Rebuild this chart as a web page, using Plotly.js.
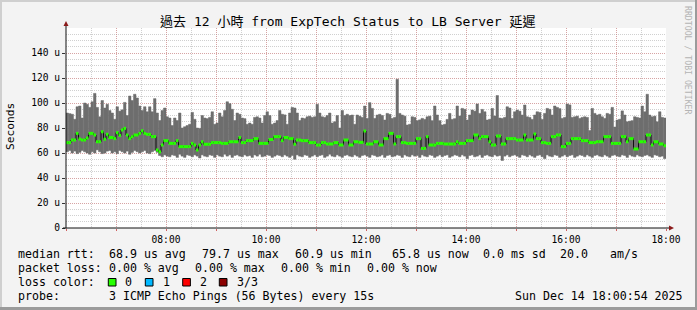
<!DOCTYPE html>
<html><head><meta charset="utf-8">
<script src="https://cdn.plot.ly/plotly-3.0.1.min.js"></script>
<style>html,body{margin:0;padding:0;background:#f3f3f3;overflow:hidden}#chart{width:697px;height:310px}</style>
</head><body><div id="chart"></div>
<script>
// ---- data (microseconds), 3-minute steps from 06:00 to 18:00 ----
const startUTC = [2025, 11, 14, 6, 0];
const stepMinutes = 3;
const maxRtt = [92, 91.5, 91, 87, 97, 97.6, 88, 100, 99, 96.5,
 101, 107.7, 96.5, 89, 102, 96, 99, 94, 92, 87,
 97, 93.5, 94.5, 100.5, 90, 105.6, 102, 107, 104, 97.6,
 94, 97, 93, 97, 93, 103.5, 92, 86, 94, 96,
 89, 88, 82, 88, 86, 92, 80, 81, 82, 83,
 92.5, 87, 80, 79.7, 90, 88, 87.5, 88.5, 93, 83,
 84, 92, 89, 94, 101, 99.5, 95, 86, 92, 91,
 88, 87.5, 83, 84, 83, 88.5, 89, 88, 84, 90,
 93, 90, 83, 84, 86, 94, 91, 90.5, 83, 92,
 96.5, 96, 92, 86, 88, 87.5, 89, 89.5, 88.5, 89,
 99, 92, 89, 88.5, 90, 92, 84, 85, 90, 80,
 94, 90, 91, 90, 90.4, 83, 90.4, 89.5, 88.5, 97.6,
 87.7, 100.3, 95.7, 87.7, 90.4, 91, 90, 86.4, 91.7, 91,
 87.7, 88.5, 119, 91.7, 90.4, 89.5, 82.4, 83, 89, 88.5,
 85.9, 86.5, 87.7, 86.9, 89, 89.5, 85.9, 97.6, 90.4, 85.9,
 82.4, 83, 86.9, 91.7, 86.9, 87.5, 97.6, 89.6, 95.7, 95,
 86.4, 90.4, 94.4, 93.5, 99.2, 91.7, 94.9, 93, 86.4, 87,
 95.7, 89.6, 106, 88, 87.7, 88.5, 97, 96, 87.7, 93,
 94.4, 93.5, 90.4, 98.4, 89, 88.5, 86.9, 90.4, 93, 92.5,
 86.9, 91.7, 95.7, 95, 90.4, 97.6, 96.5, 95.5, 87.7, 88.5,
 99.2, 98.5, 88.5, 89, 89.5, 87.7, 88.5, 89, 88.5, 78,
 95.7, 91.7, 90.4, 91, 89, 87.7, 91.7, 91, 96.5, 80.8,
 86.4, 87, 93.7, 90.4, 85, 85.5, 85.9, 89, 88.5, 88,
 97.6, 93, 107, 90.4, 89, 89.5, 85, 93, 88.5, 88];
const minRtt = [61, 62, 60, 61.5, 59.5, 60.5, 62, 61, 60, 59,
 61, 60, 62.5, 61, 59.5, 60, 61.5, 62, 60, 61,
 59.5, 62, 61, 60, 61.5, 59, 60.5, 62, 61, 60,
 61, 62, 60, 59.5, 61, 62, 60.5, 58, 57, 58.5,
 57.5, 57, 58.5, 58, 56.5, 59, 57.5, 56.5, 58.5, 58,
 57, 58.5, 57.5, 56, 58.5, 57.5, 57, 58.5, 58, 56.5,
 58.5, 57.5, 57, 59, 57.5, 58.5, 56.5, 58, 58.5, 57.5,
 57, 58.5, 57.5, 58, 56.5, 58.5, 57.5, 59, 57, 57.5,
 58.5, 58, 56.5, 57.5, 58.5, 58, 57, 58.5, 57.5, 56.5,
 58, 55, 58.5, 57.5, 57, 58.5, 58, 56.5, 57.5, 58.5,
 57, 58, 58.5, 56.5, 57.5, 59, 57.5, 57, 58.5, 57.5,
 56.5, 58, 58.5, 57.5, 57, 58.5, 57.5, 56.5, 58, 58.5,
 57.5, 56.5, 58.5, 58, 57, 57.5, 58.5, 56.5, 58, 58.5,
 57, 57.5, 58.5, 58, 56.5, 58.5, 57.5, 57, 58.5, 57.5,
 58, 56.5, 58.5, 57.5, 57, 58.5, 58, 56.5, 57.5, 58.5,
 57, 58, 58.5, 56.5, 57.5, 58.5, 58, 57, 58.5, 57.5,
 55.5, 58, 58.5, 57, 57.5, 58.5, 56.5, 58, 58.5, 57.5,
 57, 58.5, 57.5, 58, 54, 57.5, 58.5, 57, 58, 58.5,
 57.5, 56.5, 58.5, 58, 57, 58.5, 57.5, 56.5, 58, 58.5,
 57, 55.5, 58.5, 57.5, 57, 58.5, 58, 56.5, 57.5, 58.5,
 57, 58, 58.5, 56.5, 57.5, 58.5, 58, 57, 58.5, 57.5,
 56.5, 58, 58.5, 57.5, 57, 58.5, 57.5, 56.5, 58, 58.5,
 57.5, 57, 58.5, 58, 56.5, 58.5, 57.5, 57, 58.5, 57.5,
 57, 58, 58.5, 57.5, 56.5, 58.5, 58, 57, 57.5, 55.5];
const medianRtt = [68.3, 68.3, 70.4, 70.4, 75.7, 71.2, 70.4, 70.4, 72, 75.7,
 75.7, 74.4, 69, 69, 77, 71, 75, 72.4, 72.4, 71.5,
 76.3, 74, 78.4, 79.7, 74.4, 71.5, 73, 74.4, 74.4, 75.7,
 77.8, 75.7, 74.9, 74.9, 73.1, 73.1, 62.4, 60.9, 66.4, 69.9,
 69.9, 67.7, 67.7, 67.7, 69.9, 65.1, 65.1, 65.1, 65.1, 65.1,
 67.7, 66.4, 62.4, 66.4, 69, 67, 67, 67, 68.3, 68.3,
 68.3, 68.3, 67.7, 67.7, 67.7, 69, 69, 69, 69, 72.4,
 68.3, 68.3, 69.9, 69.9, 69.9, 71.5, 71.5, 67.7, 67.7, 67.7,
 67.7, 70.8, 70.8, 73.1, 73.1, 73.1, 69.9, 72.4, 72.4, 71.5,
 71.5, 67, 70.4, 70.4, 69.9, 69.9, 69.9, 68.3, 68.3, 68.3,
 66.4, 66.4, 68.3, 68.3, 67.2, 67.2, 67.2, 68.3, 68.3, 66.4,
 66.4, 70.4, 70.4, 66.4, 66.4, 69, 69, 68.5, 68.5, 77.6,
 67.2, 67.2, 67.2, 69, 69, 66.4, 66.4, 71.5, 71.5, 75.7,
 75.7, 67.2, 73.1, 73.1, 68.3, 68.3, 67.7, 67.7, 67.7, 67.7,
 71.5, 71.5, 63.7, 63.7, 73.1, 66.4, 66.4, 66.4, 67.7, 67.7,
 67.7, 67.2, 67.2, 67.2, 67.2, 67.2, 69, 67.7, 67.7, 67.7,
 69.9, 69.9, 69.9, 74.4, 74.4, 71.5, 73.1, 73.1, 73.1, 69,
 66.4, 66.4, 73.6, 73.6, 67.2, 67.2, 71.5, 71.5, 71.5, 71.5,
 70.4, 70.4, 70.4, 74.4, 70.4, 70.4, 70.4, 75.2, 71.5, 71.5,
 68.3, 68.3, 67.7, 67.7, 73.1, 73.1, 74.4, 74.4, 65.1, 65.1,
 67.7, 67.7, 71.5, 71.5, 71.5, 71.5, 69.9, 69.9, 69.9, 68.3,
 68.3, 68.3, 69, 69, 69, 73.1, 73.1, 73.1, 67.7, 67.7,
 67.7, 67.7, 73.1, 73.1, 69, 71.5, 71.5, 63.2, 63.2, 69,
 69, 69, 74.4, 74.4, 66.4, 69, 69, 67.2, 67.2, 65.8];

const hourTickTexts = ['', '', '08:00', '', '10:00', '', '12:00', '', '14:00', '', '16:00', '', '18:00'];
const yTickValues = [0, 20, 40, 60, 80, 100, 120, 140];
const yTickTexts = ['0', '20 u', '40 u', '60 u', '80 u', '100 u', '120 u', '140 u'];

const titleText = '過去 12 小時 from ExpTech Status to LB Server 延遲';
const yTitleText = 'Seconds';
const creditText = 'RRDTOOL / TOBI OETIKER';
const rttLegend = ['median rtt:', '68.9 us avg', '79.7 us max', '60.9 us min', '65.8 us now', '0.0 ms sd', '20.0', 'am/s'];
const lossLegend = ['packet loss:', '0.00 % avg', '0.00 % max', '0.00 % min', '0.00 % now'];
const lossColorLabels = ['loss color:', '0', '1', '2', '3/3'];
const lossColors = ['#26ff00', '#00b8ff', '#ff0000', '#8b0000'];
const probeLegend = ['probe:', '3 ICMP Echo Pings (56 Bytes) every 15s', 'Sun Dec 14 18:00:54 2025'];

// ---- geometry helpers (plot area 66..666 x 28..228 px) ----
const PL = 66, PR = 666, PT = 28, PB = 228;
const px = p => (p - PL) / (PR - PL);
const py = p => (PB - p) / (PB - PT);

const t0 = Date.UTC(startUTC[0], startUTC[1], startUTC[2], startUTC[3], startUTC[4]);
const stepMs = stepMinutes * 60000;
const n = medianRtt.length;
const times = medianRtt.map((_, i) => t0 + i * stepMs);
const tEnd = t0 + n * stepMs;
const timesExt = times.concat([tEnd]);
const ext = arr => arr.concat([arr[arr.length - 1]]);
const spread = maxRtt.map((v, i) => v - minRtt[i]);

const hourTickVals = hourTickTexts.map((_, i) => t0 + i * 3600000);

const segX = [], segY = [];
medianRtt.forEach((v, i) => { segX.push(times[i], times[i] + stepMs, null); segY.push(v, v, null); });

const smokeColor = '#6e6e6e';
const traces = [
  {type: 'bar', x: times, y: spread, base: minRtt, width: stepMs, offset: 0,
   marker: {color: smokeColor, line: {color: smokeColor, width: 0.5}}, hoverinfo: 'skip', showlegend: false},
  {x: timesExt, y: ext(medianRtt), mode: 'lines', line: {width: 1, shape: 'hv', color: '#111111'}, showlegend: false},
  {x: segX, y: segY, mode: 'lines', line: {width: 3, color: lossColors[0]}, connectgaps: false, showlegend: false}
];

const mono = 'DejaVu Sans Mono, Noto Sans CJK TC, monospace';
const legendFont = {family: mono, size: 11.6, color: '#000'};
const annotations = [];
function txt(text, x, y, extra) {
  annotations.push(Object.assign({text: text, xref: 'paper', yref: 'paper', x: px(x), y: py(y),
    xanchor: 'left', yanchor: 'middle', showarrow: false, font: legendFont}, extra || {}));
}
[16, 107, 200, 293, 390, 481, 558, 608].forEach((x, i) => txt(rttLegend[i], x, 254));
[16, 107, 193.3, 279.3, 365].forEach((x, i) => txt(lossLegend[i], x, 268));
[16, 123, 160.7, 198, 235].forEach((x, i) => txt(lossColorLabels[i], x, 282));
[16, 107, 513].forEach((x, i) => txt(probeLegend[i], x, 296));
txt(yTitleText, 10.5, 126.5, {xanchor: 'center', textangle: -90, font: {family: mono, size: 11.2, color: '#000'}});
txt(creditText, 688, 60, {xanchor: 'center', textangle: 90, font: {family: mono, size: 8.2, color: '#b4b4b4'}});

const shapes = [];
// frame of the image
shapes.push({type: 'rect', xref: 'paper', yref: 'paper', x0: px(0), x1: px(697), y0: py(0), y1: py(2), fillcolor: '#cfcfcf', line: {width: 0}, layer: 'above'});
shapes.push({type: 'rect', xref: 'paper', yref: 'paper', x0: px(0), x1: px(2), y0: py(0), y1: py(310), fillcolor: '#cfcfcf', line: {width: 0}, layer: 'above'});
shapes.push({type: 'rect', xref: 'paper', yref: 'paper', x0: px(695), x1: px(697), y0: py(0), y1: py(310), fillcolor: '#9b9b9b', line: {width: 0}, layer: 'above'});
shapes.push({type: 'rect', xref: 'paper', yref: 'paper', x0: px(0), x1: px(697), y0: py(307), y1: py(310), fillcolor: '#9b9b9b', line: {width: 0}, layer: 'above'});
// axis lines with arrows
shapes.push({type: 'line', xref: 'paper', yref: 'paper', x0: px(66), x1: px(66), y0: py(228.5), y1: py(24), line: {color: '#111', width: 1}, layer: 'above'});
shapes.push({type: 'line', xref: 'paper', yref: 'paper', x0: px(63), x1: px(671), y0: py(228), y1: py(228), line: {color: '#111', width: 1}, layer: 'above'});
shapes.push({type: 'path', xref: 'paper', yref: 'paper', path: `M${px(63.5)},${py(26)} L${px(68.5)},${py(26)} L${px(66)},${py(21)} Z`, fillcolor: '#8b1a1a', line: {width: 0}, layer: 'above'});
shapes.push({type: 'path', xref: 'paper', yref: 'paper', path: `M${px(669)},${py(225.5)} L${px(669)},${py(230.5)} L${px(674)},${py(228)} Z`, fillcolor: '#8b1a1a', line: {width: 0}, layer: 'above'});
// loss colour boxes
[108.3, 145.3, 182.7, 219.3].forEach((x, i) => shapes.push({type: 'rect', xref: 'paper', yref: 'paper',
  x0: px(x), x1: px(x + 7.7), y0: py(278.5), y1: py(286), fillcolor: lossColors[i], line: {color: '#000', width: 1}}));

const majorGrid = 'rgba(225,110,110,0.45)';
const minorGrid = 'rgba(150,150,150,0.45)';
const layout = {
  width: 697, height: 310,
  margin: {l: PL, r: 697 - PR, t: PT, b: 310 - PB, pad: 0},
  paper_bgcolor: '#f3f3f3', plot_bgcolor: '#ffffff',
  showlegend: false, bargap: 0,
  title: {text: titleText, font: {family: mono, size: 13, color: '#000'}, x: 0.499, xref: 'container', xanchor: 'center', y: 1 - 21.5 / 310, yref: 'container', yanchor: 'middle'},
  xaxis: {type: 'date', range: [t0, tEnd], tickmode: 'array', tickvals: hourTickVals, ticktext: hourTickTexts,
    showgrid: true, gridcolor: majorGrid, griddash: '1px,1px', gridwidth: 1,
    ticks: 'outside', ticklen: 2, tickcolor: '#d06060', zeroline: false, showline: false,
    tickfont: {family: mono, size: 9.6, color: '#000'},
    minor: {dtick: 1800000, tick0: t0, showgrid: true, gridcolor: minorGrid, griddash: '1px,1px', gridwidth: 1, ticks: ''},
    fixedrange: true},
  yaxis: {range: [0, 160], tickmode: 'array', tickvals: yTickValues, ticktext: yTickTexts,
    showgrid: true, gridcolor: majorGrid, griddash: '1px,1px', gridwidth: 1,
    ticks: 'outside', ticklen: 3, tickcolor: '#333', zeroline: false, showline: false,
    tickfont: {family: mono, size: 9.6, color: '#000'},
    minor: {dtick: 5, tick0: 0, showgrid: true, gridcolor: minorGrid, griddash: '1px,1px', gridwidth: 1, ticks: ''},
    fixedrange: true},
  annotations: annotations,
  shapes: shapes
};

Plotly.newPlot('chart', traces, layout, {displayModeBar: false, staticPlot: true});
</script>
</body></html>
